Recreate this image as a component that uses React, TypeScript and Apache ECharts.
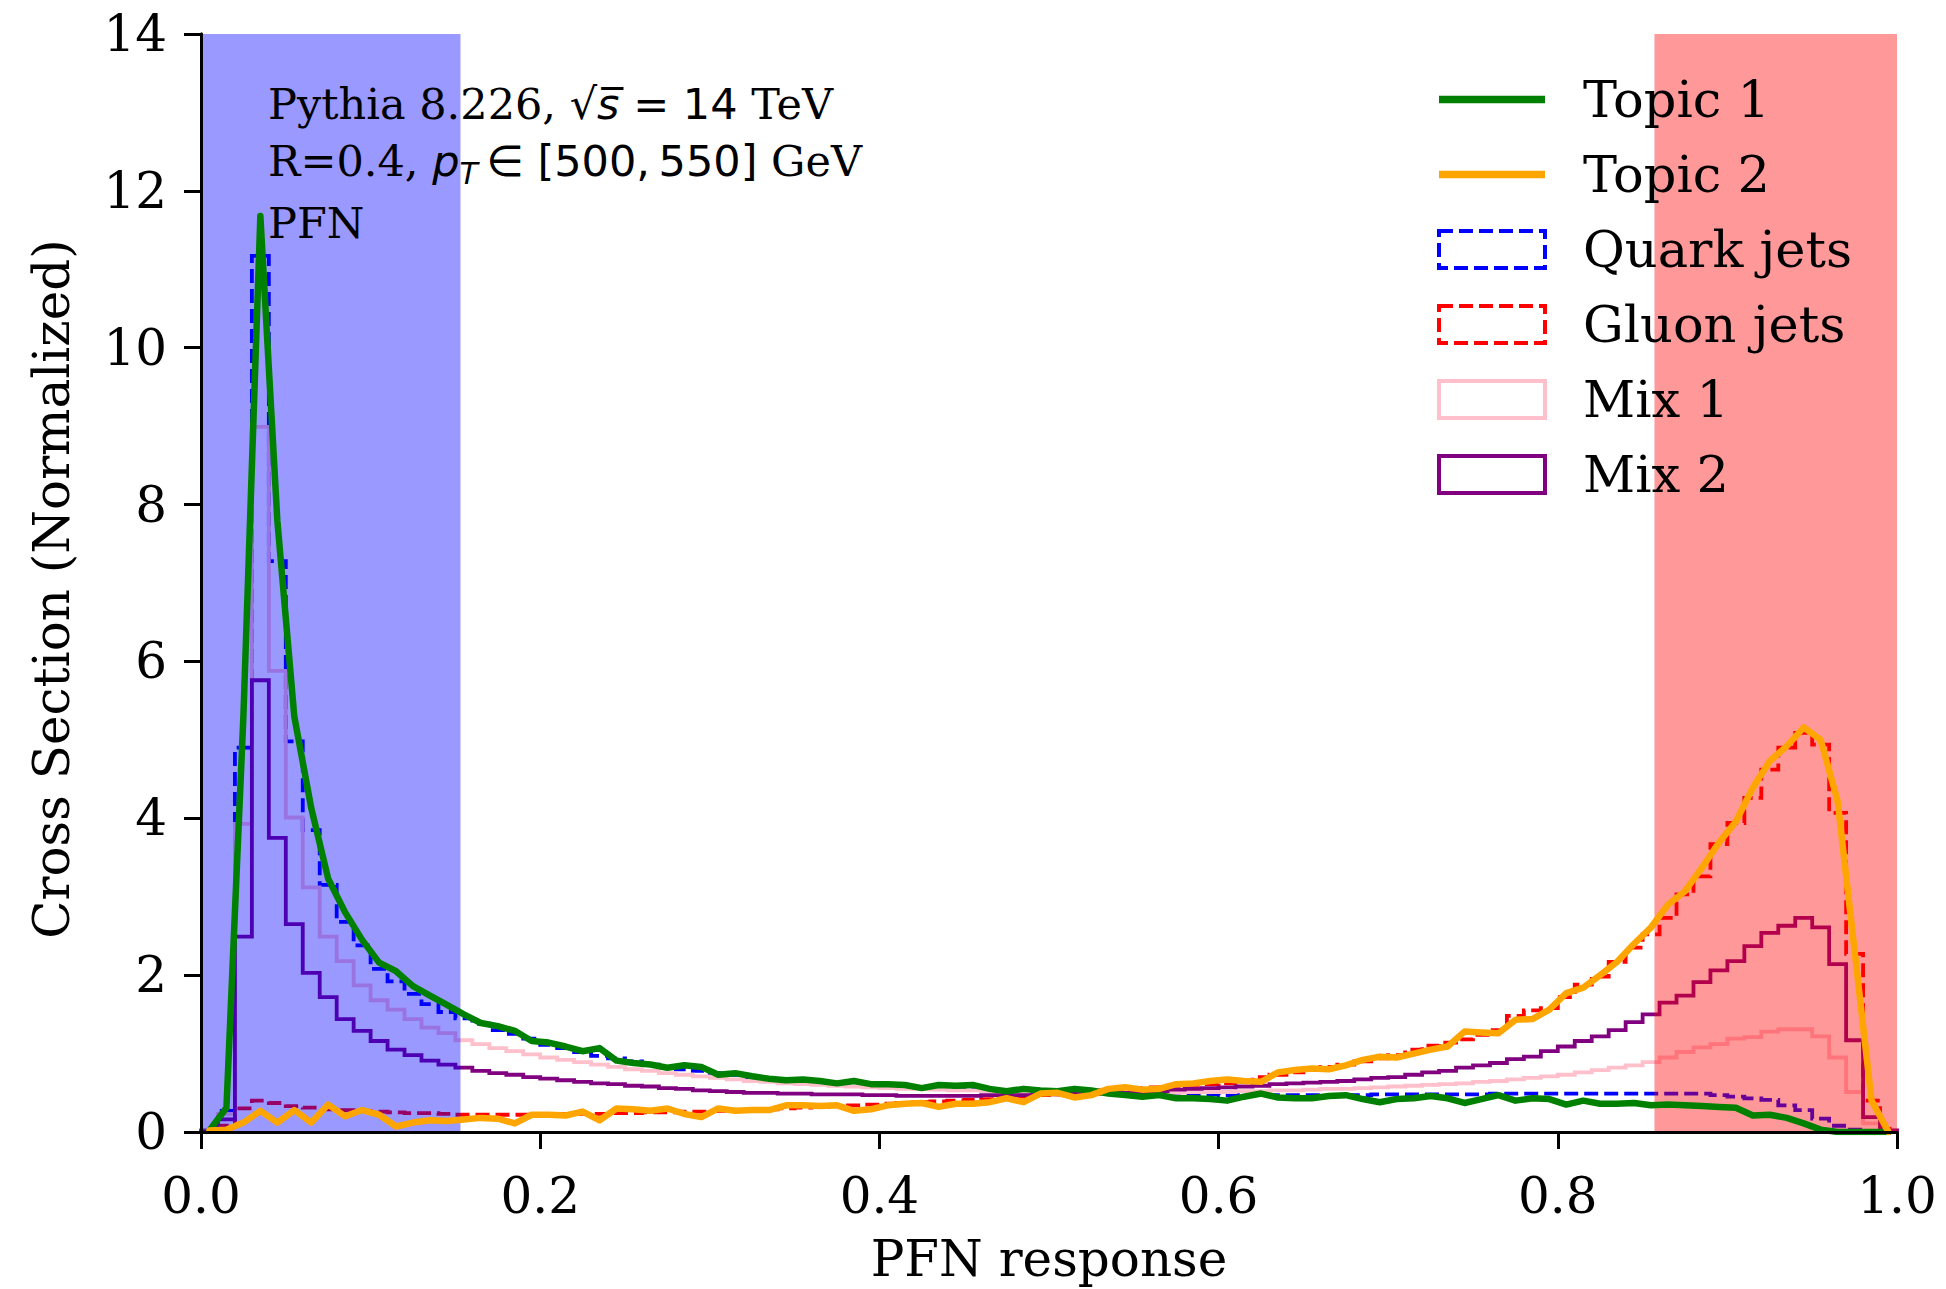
import React, { useEffect, useRef } from 'react';
import * as echarts from 'echarts';

const SERIF = "'DejaVu Serif', serif";
const SANS = "'DejaVu Sans', sans-serif";

const BIN_WIDTH = 0.01;
const X_MIN = 0;
const X_MAX = 1;
const Y_MIN = 0;
const Y_MAX = 14;

const SERIES_NAMES = ['Topic 1', 'Topic 2', 'Quark jets', 'Gluon jets', 'Mix 1', 'Mix 2'];

// histogram bin contents (100 bins of width 0.01)
const QUARK = [
  0.02, 0.27, 4.90, 11.17, 7.28, 4.98, 3.85, 3.15, 2.68, 2.38,
  2.08, 1.92, 1.76, 1.63, 1.53, 1.45, 1.38, 1.30, 1.25, 1.19,
  1.11, 1.07, 1.02, 0.97, 0.94, 0.90, 0.86, 0.83, 0.80, 0.78,
  0.75, 0.73, 0.70, 0.68, 0.67, 0.65, 0.64, 0.62, 0.61, 0.60,
  0.58, 0.57, 0.56, 0.55, 0.55, 0.54, 0.53, 0.52, 0.52, 0.51,
  0.51, 0.50, 0.50, 0.49, 0.49, 0.49, 0.48, 0.48, 0.48, 0.48,
  0.47, 0.47, 0.47, 0.47, 0.47, 0.47, 0.47, 0.47, 0.47, 0.48,
  0.48, 0.48, 0.48, 0.48, 0.48, 0.48, 0.49, 0.49, 0.49, 0.49,
  0.49, 0.49, 0.49, 0.49, 0.49, 0.49, 0.49, 0.49, 0.49, 0.47,
  0.45, 0.43, 0.41, 0.34, 0.28, 0.17, 0.08, 0.03, 0.01, 0.00,
];

const GLUON = [
  0.01, 0.08, 0.30, 0.40, 0.37, 0.33, 0.31, 0.29, 0.28, 0.27,
  0.26, 0.25, 0.24, 0.24, 0.23, 0.22, 0.22, 0.22, 0.22, 0.22,
  0.22, 0.23, 0.23, 0.23, 0.24, 0.24, 0.25, 0.25, 0.26, 0.26,
  0.27, 0.28, 0.28, 0.29, 0.30, 0.31, 0.32, 0.33, 0.34, 0.35,
  0.36, 0.37, 0.38, 0.39, 0.40, 0.41, 0.42, 0.44, 0.45, 0.47,
  0.48, 0.50, 0.51, 0.53, 0.55, 0.56, 0.57, 0.59, 0.60, 0.61,
  0.62, 0.65, 0.70, 0.73, 0.76, 0.79, 0.83, 0.86, 0.90, 0.94,
  0.98, 1.05, 1.10, 1.14, 1.18, 1.24, 1.30, 1.48, 1.55, 1.58,
  1.72, 1.88, 1.98, 2.17, 2.35, 2.52, 2.73, 3.03, 3.26, 3.67,
  3.94, 4.26, 4.62, 4.90, 5.09, 4.94, 4.07, 2.27, 0.40, 0.04,
];

const MIX1 = [
  0.02, 0.23, 3.93, 8.99, 5.88, 4.01, 3.12, 2.49, 2.18, 1.87,
  1.68, 1.56, 1.44, 1.33, 1.26, 1.17, 1.12, 1.07, 1.03, 0.99,
  0.95, 0.92, 0.89, 0.86, 0.83, 0.80, 0.78, 0.75, 0.73, 0.71,
  0.69, 0.67, 0.65, 0.64, 0.62, 0.61, 0.60, 0.59, 0.58, 0.57,
  0.56, 0.55, 0.55, 0.54, 0.53, 0.53, 0.52, 0.52, 0.51, 0.51,
  0.51, 0.50, 0.50, 0.50, 0.50, 0.50, 0.50, 0.50, 0.51, 0.51,
  0.51, 0.52, 0.52, 0.53, 0.53, 0.54, 0.55, 0.55, 0.56, 0.57,
  0.58, 0.59, 0.60, 0.61, 0.62, 0.64, 0.65, 0.67, 0.69, 0.71,
  0.73, 0.76, 0.79, 0.82, 0.85, 0.89, 0.95, 1.02, 1.08, 1.12,
  1.19, 1.21, 1.28, 1.31, 1.31, 1.22, 0.95, 0.51, 0.11, 0.02,
];

const MIX2 = [
  0.01, 0.16, 2.49, 5.76, 3.75, 2.65, 2.03, 1.72, 1.44, 1.29,
  1.16, 1.05, 0.98, 0.91, 0.86, 0.82, 0.78, 0.75, 0.73, 0.70,
  0.68, 0.66, 0.64, 0.62, 0.61, 0.59, 0.58, 0.56, 0.55, 0.53,
  0.52, 0.51, 0.50, 0.50, 0.49, 0.49, 0.48, 0.48, 0.48, 0.47,
  0.47, 0.46, 0.46, 0.46, 0.46, 0.46, 0.47, 0.47, 0.47, 0.48,
  0.48, 0.49, 0.49, 0.50, 0.50, 0.51, 0.52, 0.54, 0.55, 0.56,
  0.57, 0.58, 0.59, 0.61, 0.62, 0.63, 0.64, 0.65, 0.67, 0.69,
  0.70, 0.73, 0.76, 0.78, 0.82, 0.85, 0.88, 0.93, 0.96, 1.03,
  1.09, 1.16, 1.22, 1.30, 1.40, 1.50, 1.65, 1.74, 1.91, 2.06,
  2.18, 2.37, 2.54, 2.63, 2.73, 2.61, 2.14, 1.17, 0.19, 0.02,
];

// topic curves, sampled at bin centres
const TOPIC1 = [
  0.02, 0.31, 5.30, 11.68, 7.80, 5.30, 4.13, 3.23, 2.80, 2.45,
  2.16, 2.05, 1.86, 1.74, 1.62, 1.50, 1.39, 1.35, 1.29, 1.16,
  1.14, 1.09, 1.03, 1.07, 0.91, 0.88, 0.86, 0.82, 0.85, 0.83,
  0.73, 0.75, 0.71, 0.68, 0.66, 0.67, 0.65, 0.62, 0.65, 0.61,
  0.61, 0.60, 0.56, 0.60, 0.59, 0.60, 0.55, 0.52, 0.55, 0.53,
  0.52, 0.55, 0.53, 0.49, 0.47, 0.45, 0.47, 0.43, 0.43, 0.42,
  0.40, 0.45, 0.49, 0.44, 0.43, 0.43, 0.46, 0.47, 0.42, 0.38,
  0.42, 0.43, 0.46, 0.43, 0.37, 0.42, 0.47, 0.40, 0.43, 0.42,
  0.35, 0.40, 0.36, 0.36, 0.37, 0.34, 0.35, 0.34, 0.33, 0.32,
  0.31, 0.21, 0.22, 0.18, 0.11, 0.03, 0.00, 0.00, 0.00, 0.00,
];

const TOPIC2 = [
  0.02, 0.03, 0.12, 0.27, 0.12, 0.28, 0.12, 0.35, 0.20, 0.28,
  0.22, 0.07, 0.12, 0.15, 0.14, 0.16, 0.18, 0.17, 0.11, 0.22,
  0.22, 0.21, 0.26, 0.15, 0.30, 0.29, 0.27, 0.30, 0.23, 0.19,
  0.30, 0.27, 0.28, 0.28, 0.34, 0.34, 0.33, 0.34, 0.27, 0.29,
  0.34, 0.36, 0.37, 0.32, 0.36, 0.36, 0.38, 0.43, 0.38, 0.49,
  0.50, 0.44, 0.47, 0.55, 0.57, 0.54, 0.55, 0.61, 0.62, 0.65,
  0.67, 0.65, 0.64, 0.76, 0.79, 0.81, 0.80, 0.85, 0.92, 0.96,
  0.95, 1.00, 1.05, 1.09, 1.28, 1.27, 1.26, 1.43, 1.44, 1.56,
  1.77, 1.84, 2.00, 2.17, 2.40, 2.61, 2.90, 3.07, 3.37, 3.69,
  3.96, 4.39, 4.73, 4.92, 5.16, 5.00, 4.22, 2.31, 0.40, 0.00,
];

// shaded response regions [start, end]
const SHADE_REGIONS = [
  [0.0, 0.153],
  [0.857, 1.0],
];
const SHADE_COLORS = ['rgba(0,0,255,0.4)', 'rgba(255,0,0,0.4)'];

const COLORS = {
  topic1: '#008000',
  topic2: '#ffa500',
  quark: '#0000ff',
  gluon: '#ff0000',
  mix1: '#ffc0cb',
  mix2: '#800080',
};

function histOutline(values: number[]): number[][] {
  const pts: number[][] = [[X_MIN, 0]];
  values.forEach((v, k) => pts.push([k * BIN_WIDTH, v]));
  const end = values.length * BIN_WIDTH;
  pts.push([end, values[values.length - 1]]);
  pts.push([end, 0]);
  return pts;
}

function atCentres(values: number[]): number[][] {
  return values.map((v, k) => [(k + 0.5) * BIN_WIDTH, v]);
}

const HIST_WIDTH = 3.8;
const DASH = [14, 6];
const FONT = 50;
const NOTE_FONT = 43;

function buildOption(): any {
  const histSeries = (name: string, values: number[], color: string, dashed: boolean) => ({
    name,
    type: 'line',
    step: 'end',
    data: histOutline(values),
    symbol: 'none',
    z: 2,
    lineStyle: { color, width: HIST_WIDTH, type: dashed ? DASH : 'solid', join: 'miter' },
    itemStyle: { color },
    emphasis: { disabled: true },
  });
  const topicSeries = (name: string, values: number[], color: string) => ({
    name,
    type: 'line',
    data: atCentres(values),
    symbol: 'none',
    z: 4,
    lineStyle: { color, width: 6.5, join: 'round', cap: 'round' },
    itemStyle: { color },
    emphasis: { disabled: true },
  });

  const axisLine = { show: true, lineStyle: { color: '#000', width: 3 } };
  const labelStyle = { fontFamily: SERIF, fontSize: FONT, color: '#000' };

  return {
    animation: false,
    backgroundColor: '#ffffff',
    grid: { left: 201, top: 34, width: 1696, height: 1101, containLabel: false },
    xAxis: [
      {
        type: 'value',
        min: X_MIN,
        max: X_MAX,
        interval: 0.2,
        z: 10,
        axisLine,
        axisTick: { show: true, length: 17, lineStyle: { color: '#000', width: 3 } },
        axisLabel: { ...labelStyle, margin: 39, formatter: (v: number) => v.toFixed(1) },
        splitLine: { show: false },
        name: 'PFN response',
        nameLocation: 'middle',
        nameGap: 102,
        nameTextStyle: { fontFamily: SERIF, fontSize: FONT, color: '#000' },
      },
      {
        type: 'value',
        position: 'top',
        min: X_MIN,
        max: X_MAX,
        interval: 0.2,
        z: 10,
        axisLine,
        axisTick: { show: false },
        axisLabel: { show: false },
        splitLine: { show: false },
      },
    ],
    yAxis: [
      {
        type: 'value',
        min: Y_MIN,
        max: Y_MAX,
        interval: 2,
        z: 10,
        axisLine,
        axisTick: { show: true, length: 17, lineStyle: { color: '#000', width: 3 } },
        axisLabel: { ...labelStyle, margin: 34 },
        splitLine: { show: false },
        name: 'Cross Section (Normalized)',
        nameLocation: 'middle',
        nameGap: 124,
        nameTextStyle: { fontFamily: SERIF, fontSize: FONT, color: '#000', padding: [0, 12, 0, 0] },
      },
      {
        type: 'value',
        position: 'right',
        min: Y_MIN,
        max: Y_MAX,
        interval: 2,
        z: 10,
        axisLine,
        axisTick: { show: false },
        axisLabel: { show: false },
        splitLine: { show: false },
      },
    ],
    legend: {
      orient: 'vertical',
      left: 1437,
      top: 74,
      padding: 0,
      itemWidth: 106,
      itemHeight: 37,
      itemGap: 24,
      selectedMode: false,
      textStyle: { fontFamily: SERIF, fontSize: 51, color: '#000', lineHeight: 40, padding: [0, 0, 0, 33] },
      data: [
        { name: SERIES_NAMES[0], icon: 'path://M0,0H100V7H0Z', itemStyle: { color: COLORS.topic1, borderWidth: 0 } },
        { name: SERIES_NAMES[1], icon: 'path://M0,0H100V7H0Z', itemStyle: { color: COLORS.topic2, borderWidth: 0 } },
        { name: SERIES_NAMES[2], icon: 'rect', itemStyle: { color: 'rgba(0,0,0,0)', borderColor: COLORS.quark, borderWidth: 4, borderType: DASH } },
        { name: SERIES_NAMES[3], icon: 'rect', itemStyle: { color: 'rgba(0,0,0,0)', borderColor: COLORS.gluon, borderWidth: 4, borderType: DASH } },
        { name: SERIES_NAMES[4], icon: 'rect', itemStyle: { color: 'rgba(0,0,0,0)', borderColor: COLORS.mix1, borderWidth: 4, borderType: 'solid' } },
        { name: SERIES_NAMES[5], icon: 'rect', itemStyle: { color: 'rgba(0,0,0,0)', borderColor: COLORS.mix2, borderWidth: 4, borderType: 'solid' } },
      ],
    },
    graphic: [
      {
        type: 'text',
        left: 268,
        top: 82,
        z: 20,
        style: {
          text: '{n|Pythia 8.226, }{m|\u221A}{i|s\u0305}{m| = 14 }{n|TeV}',
          rich: {
            n: { fontFamily: SERIF, fontSize: NOTE_FONT, fill: '#000', lineHeight: 46 },
            m: { fontFamily: SANS, fontSize: NOTE_FONT, fill: '#000', lineHeight: 46 },
            i: { fontFamily: SANS, fontStyle: 'italic', fontSize: NOTE_FONT, fill: '#000', lineHeight: 46 },
          },
        },
      },
      {
        type: 'text',
        left: 268,
        top: 139,
        z: 20,
        style: {
          text: '{n|R=0.4, }{i|p}{sub|T}{m|\u2009\u2208 [500,\u2009550] }{n|GeV}',
          rich: {
            n: { fontFamily: SERIF, fontSize: NOTE_FONT, fill: '#000', lineHeight: 56 },
            m: { fontFamily: SANS, fontSize: NOTE_FONT, fill: '#000', lineHeight: 56 },
            i: { fontFamily: SANS, fontStyle: 'italic', fontSize: NOTE_FONT, fill: '#000', lineHeight: 56 },
            sub: { fontFamily: SANS, fontStyle: 'italic', fontSize: 30, fill: '#000', lineHeight: 34, verticalAlign: 'bottom' },
          },
        },
      },
      {
        type: 'text',
        left: 268,
        top: 200,
        z: 20,
        style: { text: 'PFN', fontFamily: SERIF, fontSize: NOTE_FONT, lineHeight: 46, fill: '#000' },
      },
    ],
    series: [
      histSeries(SERIES_NAMES[2], QUARK, COLORS.quark, true),
      histSeries(SERIES_NAMES[3], GLUON, COLORS.gluon, true),
      histSeries(SERIES_NAMES[4], MIX1, COLORS.mix1, false),
      histSeries(SERIES_NAMES[5], MIX2, COLORS.mix2, false),
      {
        name: 'shade',
        type: 'custom',
        z: 3,
        silent: true,
        data: SHADE_REGIONS,
        encode: { x: [0, 1] },
        renderItem: (params: any, api: any) => {
          const tl = api.coord([api.value(0), Y_MAX]);
          const br = api.coord([api.value(1), Y_MIN]);
          return {
            type: 'rect',
            shape: { x: tl[0], y: tl[1], width: br[0] - tl[0], height: br[1] - tl[1] },
            style: { fill: SHADE_COLORS[params.dataIndex] },
          };
        },
      },
      topicSeries(SERIES_NAMES[0], TOPIC1, COLORS.topic1),
      topicSeries(SERIES_NAMES[1], TOPIC2, COLORS.topic2),
    ],
  };
}

export default function App() {
  const ref = useRef<HTMLDivElement>(null);
  useEffect(() => {
    document.body.style.margin = '0';
    document.body.style.overflow = 'hidden';
    const chart = echarts.init(ref.current as HTMLDivElement, undefined, { renderer: 'svg' });
    chart.setOption(buildOption());
    return () => chart.dispose();
  }, []);
  return <div ref={ref} style={{ width: 1946, height: 1289, background: '#ffffff' }} />;
}
